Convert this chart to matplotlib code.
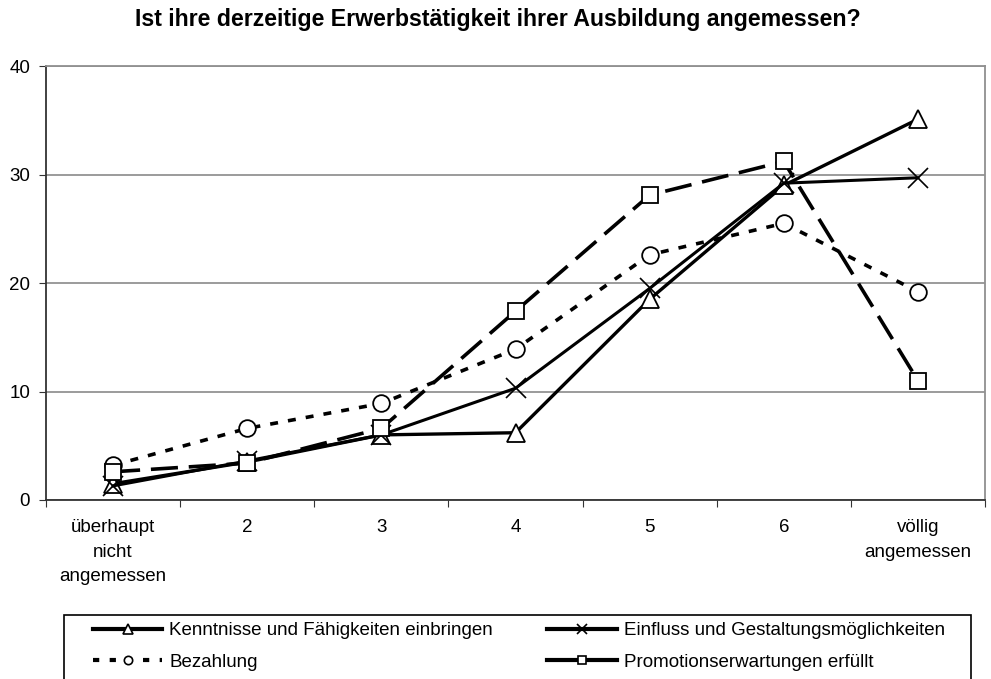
import matplotlib.pyplot as plt
from matplotlib.lines import Line2D
from matplotlib.patches import Rectangle

plt.rcParams['font.family'] = ['Liberation Sans', 'DejaVu Sans']

# categories on the x axis
categories = ['überhaupt\nnicht\nangemessen', '2', '3', '4', '5', '6', 'völlig\nangemessen']

# series values (percent)
kenntnisse = [1.5, 3.5, 6.0, 6.2, 18.5, 29.0, 35.1]
einfluss = [1.3, 3.6, 6.0, 10.3, 19.5, 29.2, 29.7]
bezahlung = [3.2, 6.6, 8.9, 13.9, 22.6, 25.5, 19.2]
promotion = [2.6, 3.4, 6.6, 17.4, 28.1, 31.2, 11.0]

labels = ['Kenntnisse und Fähigkeiten einbringen',
          'Einfluss und Gestaltungsmöglichkeiten',
          'Bezahlung',
          'Promotionserwartungen erfüllt']

W, H = 991, 679
fig = plt.figure(figsize=(W / 100, H / 100), dpi=100)
ax = fig.add_axes([46 / W, 1 - 500 / H, (985 - 46) / W, (500 - 66) / H])

x = list(range(len(categories)))

ax.plot(x, kenntnisse, color='black', lw=2.4, marker='^', ms=13,
        mfc='white', mec='black', mew=1.3, zorder=3)
ax.plot(x, einfluss, color='black', lw=2.2, marker='x', ms=14.5,
        mec='black', mew=1.2, zorder=3)
ax.plot(x, bezahlung, color='black', lw=2.6, dashes=(2.2, 2.8), marker='o', ms=12,
        mfc='white', mec='black', mew=1.3, zorder=3)
ax.plot(x, promotion, color='black', lw=2.6, dashes=(7.5, 3), marker='s', ms=11.5,
        mfc='white', mec='black', mew=1.3, zorder=3)

ax.set_xlim(-0.5, 6.5)
ax.set_ylim(0, 40)
ax.set_yticks([0, 10, 20, 30, 40])
ax.yaxis.grid(True, color='#808080', lw=1.1)
ax.set_axisbelow(True)

# ticks at category boundaries, labels at centres
ax.set_xticks([i - 0.5 for i in range(len(categories) + 1)])
ax.set_xticklabels([])
ax.set_xticks(x, minor=True)
ax.set_xticklabels(categories, minor=True, fontsize=13.5, linespacing=1.55)
ax.tick_params(axis='x', which='minor', length=0, pad=14)
ax.tick_params(axis='x', which='major', length=5, direction='out', color='#333333')
ax.tick_params(axis='y', length=5, direction='out', labelsize=13.5, pad=6.5, color='#333333')

for side in ['left', 'bottom']:
    ax.spines[side].set_color('#333333')
    ax.spines[side].set_linewidth(1.3)
for side in ['top', 'right']:
    ax.spines[side].set_color('#909090')
    ax.spines[side].set_linewidth(1.3)

fig.text(0.5 + 2 / W, 1 - 26 / H, 'Ist ihre derzeitige Erwerbstätigkeit ihrer Ausbildung angemessen?',
         ha='center', va='baseline', fontsize=16.7, fontweight='bold')

# legend frame, running past the bottom edge as in the original
fig.patches.append(Rectangle((64 / W, -0.05), (971 - 64) / W, 0.05 + 1 - 615 / H,
                             transform=fig.transFigure, fill=False,
                             edgecolor='black', lw=1.2))

handles = [
    Line2D([], [], color='black', lw=3, marker='^', ms=7, mfc='white', mec='black', mew=1.2),
    Line2D([], [], color='black', lw=3, dashes=(1.5, 2.5), marker='o', ms=6, mfc='white', mec='black', mew=1.2),
    Line2D([], [], color='black', lw=3, marker='x', ms=7, mec='black', mew=1.2),
    Line2D([], [], color='black', lw=3, marker='s', ms=6, mfc='white', mec='black', mew=1.2),
]
leg_labels = [labels[0], labels[2], labels[1], labels[3]]
leg = fig.legend(handles, leg_labels, ncol=2, loc='upper left',
                 bbox_to_anchor=(93 / W, 1 - 622 / H), frameon=False,
                 fontsize=13.5, handlelength=3.7, handletextpad=0.37, columnspacing=2.9,
                 borderpad=0, borderaxespad=0, labelspacing=0.78)

plt.savefig('out.png', dpi=100)
plt.close()
